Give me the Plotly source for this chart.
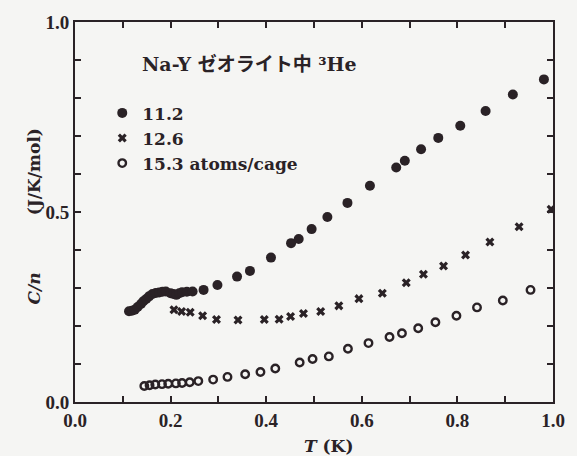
import plotly.graph_objects as go

# --- data ---
T_112 = [0.113, 0.119, 0.125, 0.131, 0.138, 0.143, 0.149, 0.155, 0.162, 0.169, 0.176, 0.183,
         0.190, 0.200, 0.206, 0.212, 0.218, 0.224, 0.234, 0.246, 0.269, 0.298, 0.339, 0.366,
         0.410, 0.452, 0.468, 0.495, 0.528, 0.570, 0.617, 0.672, 0.690, 0.724, 0.760, 0.806,
         0.859, 0.916, 0.981]
C_112 = [0.239, 0.240, 0.243, 0.250, 0.258, 0.265, 0.271, 0.278, 0.284, 0.287, 0.288, 0.290,
         0.291, 0.286, 0.284, 0.282, 0.286, 0.289, 0.290, 0.291, 0.295, 0.308, 0.330, 0.345,
         0.380, 0.418, 0.429, 0.455, 0.487, 0.524, 0.569, 0.617, 0.635, 0.665, 0.695, 0.727,
         0.766, 0.809, 0.849]

T_126 = [0.207, 0.223, 0.241, 0.267, 0.296, 0.341, 0.396, 0.427, 0.451, 0.478, 0.514, 0.552,
         0.594, 0.643, 0.693, 0.729, 0.771, 0.817, 0.868, 0.929, 0.996]
C_126 = [0.243, 0.238, 0.236, 0.227, 0.217, 0.216, 0.217, 0.218, 0.225, 0.233, 0.238, 0.253,
         0.272, 0.286, 0.314, 0.336, 0.358, 0.387, 0.421, 0.461, 0.507]

T_153 = [0.145, 0.156, 0.168, 0.182, 0.195, 0.211, 0.224, 0.240, 0.258, 0.289, 0.319, 0.356,
         0.388, 0.419, 0.470, 0.497, 0.531, 0.571, 0.614, 0.658, 0.684, 0.718, 0.754, 0.798,
         0.841, 0.895, 0.953]
C_153 = [0.042, 0.044, 0.046, 0.047, 0.048, 0.049, 0.050, 0.052, 0.055, 0.059, 0.066, 0.073,
         0.079, 0.088, 0.104, 0.113, 0.120, 0.140, 0.155, 0.171, 0.181, 0.194, 0.210, 0.227,
         0.249, 0.267, 0.295]

series_names = ["11.2", "12.6", "15.3 atoms/cage"]

x_ticks = [round(i * 0.1, 1) for i in range(11)]
x_ticktext = ["0.0", "", "0.2", "", "0.4", "", "0.6", "", "0.8", "", "1.0"]
y_ticks = [round(i * 0.1, 1) for i in range(11)]
y_ticktext = ["0.0", "", "", "", "", "0.5", "", "", "", "", "1.0"]

INK = "#2a2226"
BG = "#f5f5f3"
FONT = "DejaVu Serif"
TFONT = "Liberation Serif"

fig = go.Figure()
fig.add_trace(go.Scatter(x=T_112, y=C_112, mode="markers", name=series_names[0],
                         marker=dict(symbol="circle", size=10, color=INK)))
fig.add_trace(go.Scatter(x=T_126, y=C_126, mode="markers", name=series_names[1],
                         marker=dict(symbol="x", size=8, color=INK, line=dict(width=0))))
fig.add_trace(go.Scatter(x=T_153, y=C_153, mode="markers", name=series_names[2],
                         marker=dict(symbol="circle-open", size=7.5, color=INK,
                                     line=dict(width=2.4, color=INK))))

axis_common = dict(showgrid=False, zeroline=False, showline=True, linecolor=INK, linewidth=2,
                   mirror="ticks", ticks="inside", ticklen=6, tickwidth=1.5, tickcolor=INK,
                   tickfont=dict(family=TFONT, size=19, color=INK, weight="bold"))

fig.update_xaxes(range=[0, 1.0], tickmode="array", tickvals=x_ticks, ticktext=x_ticktext,
                 **axis_common)
fig.update_yaxes(range=[0, 1.0], tickmode="array", tickvals=y_ticks, ticktext=y_ticktext,
                 **axis_common)

fig.add_annotation(text="Na-Y ゼオライト中 ³He", xref="paper", yref="paper",
                   x=0.137, y=0.89, xanchor="left", yanchor="middle", showarrow=False,
                   font=dict(family=FONT + ", Noto Sans CJK JP", size=19, color=INK, weight="bold"))
fig.add_annotation(text="<i>T</i> (K)", xref="paper", yref="paper",
                   x=0.53, y=-0.115, xanchor="center", yanchor="middle", showarrow=False,
                   font=dict(family=FONT, size=17, color=INK, weight="bold"))
fig.add_annotation(text="<i>C/n</i>", xref="paper", yref="paper",
                   x=-0.0855, y=0.299, xanchor="center", yanchor="middle", showarrow=False,
                   textangle=-90,
                   font=dict(family=FONT, size=17, color=INK, weight="bold"))
fig.add_annotation(text="(J/K/mol)", xref="paper", yref="paper",
                   x=-0.0855, y=0.605, xanchor="center", yanchor="middle", showarrow=False,
                   textangle=-90,
                   font=dict(family=FONT, size=17, color=INK, weight="bold"))

fig.update_layout(
    width=577, height=456,
    margin=dict(l=75, r=17, t=19, b=54),
    paper_bgcolor=BG, plot_bgcolor=BG,
    showlegend=True,
    legend=dict(x=0.057, y=0.807, xanchor="left", yanchor="top", bgcolor="rgba(0,0,0,0)",
                font=dict(family=FONT, size=17, color=INK, weight="bold"),
                itemwidth=30, tracegroupgap=0),
)

fig.write_html("out.html")
